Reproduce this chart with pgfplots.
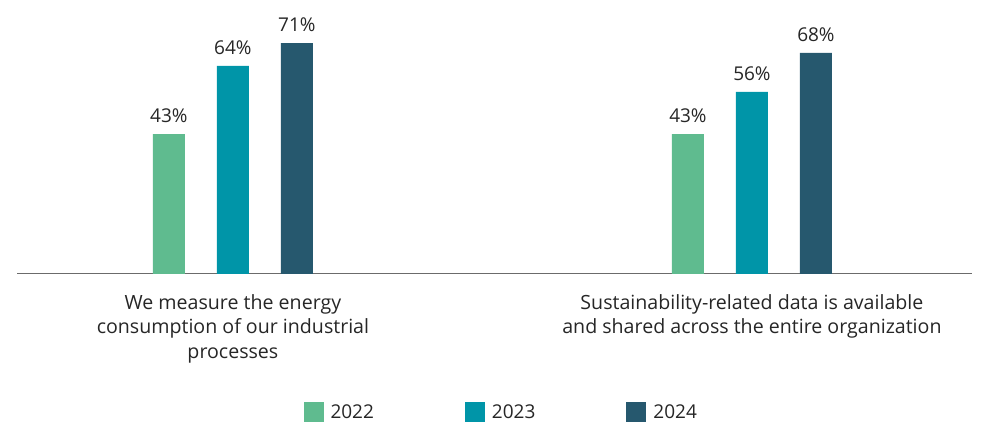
\documentclass[border=0pt]{standalone}
\usepackage{pgfplots}
\pgfplotsset{compat=1.18}
\usepackage{fontspec}
\setmainfont{Open Sans}
\definecolor{c22}{HTML}{5FBB8F}
\definecolor{c23}{HTML}{0095A8}
\definecolor{c24}{HTML}{26586E}
\definecolor{axgray}{HTML}{6B6B6B}
\begin{document}
\begin{tikzpicture}
\useasboundingbox (0,0) rectangle (987pt,422pt);
\begin{axis}[
  at={(17pt,148pt)}, anchor=south west,
  scale only axis, width=955pt, height=260pt,
  ymin=0, ymax=80,
  xmin=-0.416, xmax=1.424,
  ybar=32pt, bar width=32pt,
  hide y axis,
  axis x line*=bottom,
  x axis line style={axgray, line width=1pt, -},
  xtick={0,1}, major tick length=0pt,
  xticklabels={We measure the energy\\consumption of our industrial\\processes, Sustainability-related data is available\\and shared across the entire organization},
  xticklabel style={align=center, font=\fontsize{19.6}{24.5}\selectfont, text=black!85, yshift=-17pt},
  /pgf/number format/assume math mode=true,
  nodes near coords={\pgfmathprintnumber{\pgfplotspointmeta}\%},
  nodes near coords style={font=\fontsize{19}{22}\selectfont, text=black!85, anchor=south, yshift=8pt},
  legend style={draw=none, at={(0.507,-0.531)}, anchor=center, font=\fontsize{19}{22}\selectfont, text=black!85, /tikz/every even column/.append style={column sep=89pt}},
  legend columns=3,
  legend image code/.code={\fill[#1] (0pt,-10pt) rectangle (20pt,10pt);},
  legend cell align=left,
]
\addplot[fill=c22, draw=none] coordinates {(0,43) (1,43)};
\addlegendentry{\hspace{5pt}2022}
\addplot[fill=c23, draw=none] coordinates {(0,64) (1,56)};
\addlegendentry{\hspace{5pt}2023}
\addplot[fill=c24, draw=none] coordinates {(0,71) (1,68)};
\addlegendentry{\hspace{5pt}2024}
\end{axis}
\end{tikzpicture}
\end{document}
